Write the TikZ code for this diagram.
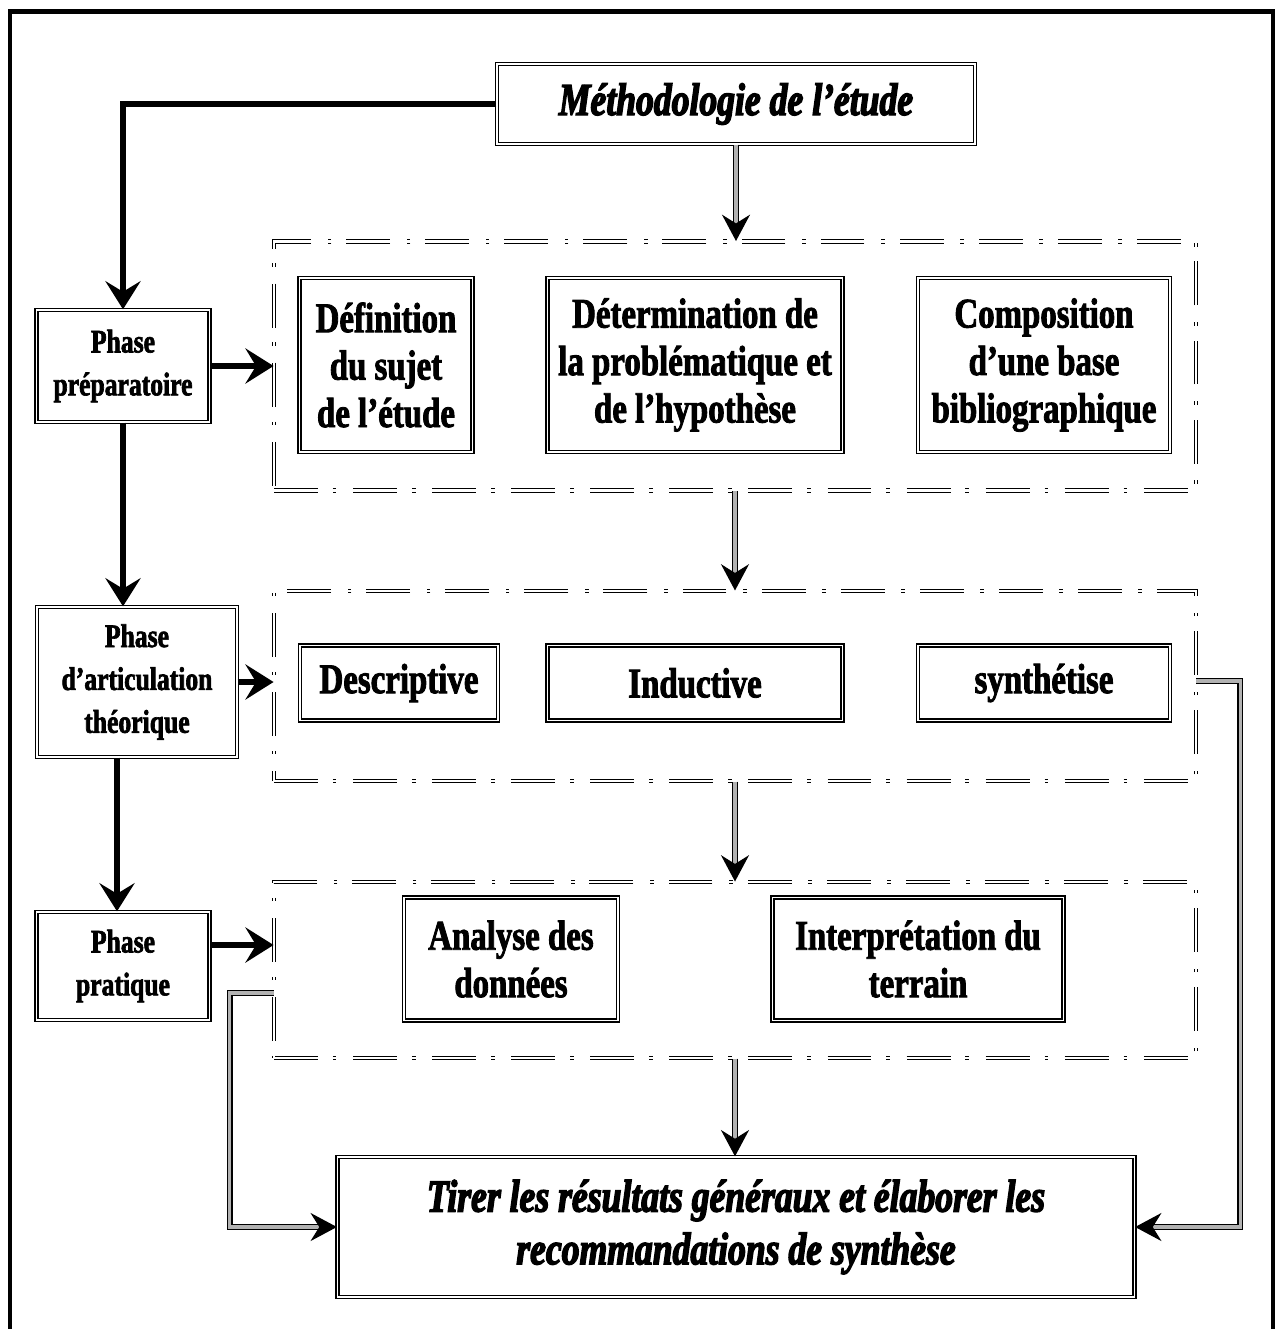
\documentclass[tikz,border=0pt]{standalone}
\usepackage{fontspec}
\setmainfont{Liberation Serif}[FakeStretch=0.78,
  BoldFont={Liberation Serif Bold}, BoldFeatures={FakeBold=2},
  BoldItalicFont={Liberation Serif Bold Italic}, BoldItalicFeatures={FakeBold=3}]
\usetikzlibrary{arrows.meta}

\tikzset{
  dblbox/.style={draw, double, line width=0.8pt, double distance=0.9pt, inner sep=0pt, align=center, font=\bfseries},
  phasebox/.style={dblbox, font=\fontsize{18.7}{24.4}\selectfont\bfseries},
  stepbox/.style={dblbox, font=\fontsize{24}{27}\selectfont\bfseries},
  headbox/.style={dblbox, font=\fontsize{26}{30}\selectfont\bfseries\itshape},
  groupbox/.style={draw, double, line width=0.6pt, double distance=1.3pt, inner sep=0pt,
    dash pattern=on 25pt off 8.5pt on 2pt off 9.5pt},
  thickarrow/.style={line width=3.2pt, -{Stealth[length=16pt,width=20pt,inset=6pt]}},
  grayarrow/.style={double=gray!60, line width=0.7pt, double distance=2pt,
    -{Stealth[length=15pt,width=16pt,inset=5pt]}}
}

\begin{document}
\begin{tikzpicture}[x=0.02cm,y=-0.02cm]
\useasboundingbox (0,0) rectangle (1277,1329);
\draw[line width=2.3pt] (10,1329) -- (10,11.5) -- (1273,11.5) -- (1273,1329);

% title and conclusion
\node[headbox, minimum width=9.56cm, minimum height=1.6cm] (methode) at (736,104) {Méthodologie de l’étude};
\node[headbox, minimum width=15.94cm, minimum height=2.8cm] (synthese) at (736,1227)
  {Tirer les résultats généraux et élaborer les\\recommandations de synthèse};

% phases
\node[phasebox, minimum width=3.46cm, minimum height=2.24cm] (prep) at (123,366) {Phase\\préparatoire};
\node[phasebox, minimum width=4cm, minimum height=3cm] (artic) at (137,682) {Phase\\d’articulation\\théorique};
\node[phasebox, minimum width=3.46cm, minimum height=2.16cm] (prat) at (123,966) {Phase\\pratique};

% groups
\node[groupbox, minimum width=18.44cm, minimum height=4.98cm] (grpA) at (735,366) {};
\node[groupbox, minimum width=18.44cm, minimum height=3.8cm] (grpB) at (735,686) {};
\node[groupbox, minimum width=18.44cm, minimum height=3.52cm] (grpC) at (735,970) {};

% steps
\node[stepbox, minimum width=3.46cm, minimum height=3.48cm] (sujet) at (386,365) {Définition\\du sujet\\de l’étude};
\node[stepbox, minimum width=5.9cm, minimum height=3.48cm] (problem) at (695,365) {Détermination de\\la problématique et\\de l’hypothèse};
\node[stepbox, minimum width=5.04cm, minimum height=3.48cm] (biblio) at (1044,365) {Composition\\d’une base\\bibliographique};
\node[stepbox, minimum width=3.96cm, minimum height=1.5cm] (descr) at (399,683) {Descriptive};
\node[stepbox, minimum width=5.9cm, minimum height=1.5cm] (induc) at (695,683) {Inductive};
\node[stepbox, minimum width=5.04cm, minimum height=1.5cm] (synth) at (1044,683) {synthétise};
\node[stepbox, minimum width=4.28cm, minimum height=2.46cm] (analyse) at (511,959) {Analyse des\\données};
\node[stepbox, minimum width=5.82cm, minimum height=2.46cm] (terrain) at (918,959) {Interprétation du\\terrain};

% left column
\draw[thickarrow] (methode.west) -| (prep.north);
\draw[thickarrow] (prep.south) -- (prep.south |- artic.north);
\draw[thickarrow] ([xshift=-0.4cm]artic.south) -- ([xshift=-0.4cm]artic.south |- prat.north);
\draw[thickarrow] (prep.east) -- (prep.east -| grpA.west);
\draw[thickarrow] (artic.east) -- (artic.east -| grpB.west);
\draw[thickarrow] ([yshift=0.42cm]prat.east) -- ([yshift=0.42cm]prat.east -| grpC.west);

% middle column
\draw[grayarrow] (methode.south) -- (methode.south |- grpA.north);
\draw[grayarrow] (grpA.south) -- (grpB.north);
\draw[grayarrow] (grpB.south) -- (grpC.north);
\draw[grayarrow] (grpC.south) -- (grpC.south |- synthese.north);

% side returns
\draw[grayarrow] ([yshift=0.1cm]grpB.east) -- ++(44,0) |- (synthese.east);
\draw[grayarrow] ([yshift=-0.46cm]grpC.west) -- ++(-44,0) |- (synthese.west);
\end{tikzpicture}
\end{document}
